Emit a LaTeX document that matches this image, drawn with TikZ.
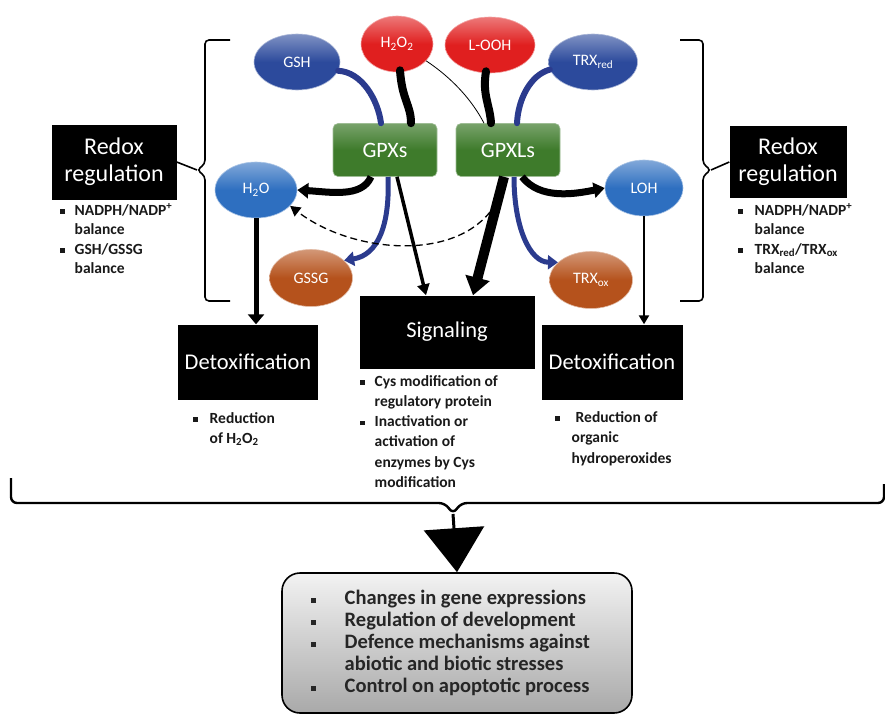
\documentclass[tikz,border=0pt]{standalone}
\usepackage{fontspec}
\setmainfont{Carlito}
\usetikzlibrary{arrows.meta,shapes.geometric,calc}

\definecolor{navyblue}{HTML}{2C4A9C}
\definecolor{skyblue}{HTML}{2E6FC0}
\definecolor{bandblue}{HTML}{2B3B8E}
\definecolor{oxred}{HTML}{E01F1F}
\definecolor{enzgreen}{HTML}{3E7B2B}
\definecolor{rust}{HTML}{B5521C}
\definecolor{outgray}{HTML}{A9A9A9}

\newcommand{\sqb}{\rule[1.5pt]{4.5pt}{4.5pt}}

\tikzset{
  oval/.style={ellipse, minimum width=86, minimum height=56, inner sep=0,
    top color=#1!60!white, bottom color=#1, middle color=#1,
    draw=#1!40!white, line width=0.6, text=white,
    font=\fontsize{16}{16}\selectfont},
  enzyme/.style={rectangle, rounded corners=5, minimum width=104, minimum height=53,
    top color=enzgreen!70!white, bottom color=enzgreen, middle color=enzgreen,
    draw=enzgreen!50!white, line width=0.6, text=white,
    font=\fontsize{22}{22}\selectfont},
  rolebox/.style={rectangle, fill=black, text=white, inner sep=0,
    font=\fontsize{22.5}{26}\selectfont, align=center},
  notes/.style={anchor=base west, inner sep=0, text=black!90,
    font=\bfseries\fontsize{15.5}{19.5}\selectfont},
  thickarrow/.style={line width=#1, -{Triangle[width=15pt,length=11pt]}},
  feed/.style={line width=#1, line cap=round},
  bluearrow/.style={line width=5, draw=bandblue, -{Triangle[width=14pt,length=10pt]}},
  bluefeed/.style={line width=6, draw=bandblue, line cap=round},
  brace/.style={line width=1.6, rounded corners=4},
}

\begin{document}
\begin{tikzpicture}[x=1pt,y=-1pt]
\useasboundingbox (0,0) rectangle (885,715);

% substrates and products
\node[oval=navyblue] (gsh) at (297,62) {GSH};
\node[oval=oxred, minimum width=72, minimum height=56] (h2o2) at (397,44) {H\textsubscript{2}O\textsubscript{2}};
\node[oval=oxred, minimum width=90, minimum height=56] (looh) at (490,45) {L-OOH};
\node[oval=navyblue, minimum width=89] (trxred) at (593,62) {TRX\textsubscript{red}};
\node[oval=skyblue, minimum width=82] (h2o) at (256,190) {H\textsubscript{2}O};
\node[oval=skyblue, minimum width=78] (loh) at (644,188) {LOH};
\node[oval=rust, minimum width=83, minimum height=57] (gssg) at (311,278) {GSSG};
\node[oval=rust, minimum width=83, minimum height=57] (trxox) at (591,280) {TRX\textsubscript{ox}};

% enzymes
\node[enzyme] (gpx) at (385,150) {GPXs};
\node[enzyme] (gpxl) at (508,150) {GPXLs};

% role boxes
\node[rolebox, minimum width=125, minimum height=75, font=\fontsize{24}{27}\selectfont] (redoxL) at (114,162) {Redox\\regulation};
\node[rolebox, minimum width=117, minimum height=72, font=\fontsize{24}{27}\selectfont] (redoxR) at (788,162) {Redox\\regulation};
\node[rolebox, minimum width=175, minimum height=73] (signal) at (447,332) {Signaling};
\node[rolebox, minimum width=140, minimum height=75] (detoxL) at (248,362) {Detoxification};
\node[rolebox, minimum width=141, minimum height=75] (detoxR) at (612,362) {Detoxification};

% notes under the boxes
\node[notes] (notesL) at (60,215) {\begin{tabular}[t]{@{}l@{\hspace{10pt}}l@{}}
  \sqb & NADPH/NADP\textsuperscript{+}\\ & balance\\ \sqb & GSH/GSSG\\ & balance\end{tabular}};
\node[notes] (notesR) at (738,215) {\begin{tabular}[t]{@{}l@{\hspace{12pt}}l@{}}
  \sqb & NADPH/NADP\textsuperscript{+}\\ & balance\\ \sqb & TRX\textsubscript{red}/TRX\textsubscript{ox}\\ & balance\end{tabular}};
\node[notes, font=\bfseries\fontsize{15.5}{20.3}\selectfont] (notesS) at (360,386) {\begin{tabular}[t]{@{}l@{\hspace{10pt}}l@{}}
  \sqb & Cys modification of\\ & regulatory protein\\ \sqb & Inactivation or\\ & activation of\\
  & enzymes by Cys\\ & modification\end{tabular}};
\node[notes, font=\bfseries\fontsize{15.5}{20}\selectfont] (notesDL) at (193,423) {\begin{tabular}[t]{@{}l@{\hspace{12pt}}l@{}}
  \sqb & Reduction\\ & of H\textsubscript{2}O\textsubscript{2}\end{tabular}};
\node[notes, font=\bfseries\fontsize{15.5}{20.5}\selectfont] (notesDR) at (555,422) {\begin{tabular}[t]{@{}l@{\hspace{12pt}}l@{}}
  \sqb & \hspace{4pt}Reduction of\\ & organic\\ & hydroperoxides\end{tabular}};

% outcome box
\node[rectangle, rounded corners=18, minimum width=350, minimum height=140,
  top color=white!95!black, bottom color=outgray, draw=black, line width=1.6,
  inner sep=0] (outcome) at (457,643) {};
\node[notes, font=\bfseries\fontsize{20.5}{22}\selectfont, text=black!85] (outtext) at (311,604)
  {\begin{tabular}[t]{@{}l@{\hspace{29pt}}l@{}}
  \sqb & Changes in gene expressions\\ \sqb & Regulation of development\\
  \sqb & Defence mechanisms against\\ & abiotic and biotic stresses\\
  \sqb & Control on apoptotic process\end{tabular}};

% substrate feeds into the enzymes
\draw[bluefeed] (gsh.-12) .. controls (362,72) and (378,100) .. ($(gpx.north)+(-4,0)$);
\draw[feed=8] ($(h2o2.south)+(3,-2)$) .. controls (402,100) and (411,105) .. ($(gpx.north)+(26,0)$);
\draw[line width=0.8] (h2o2.-30) .. controls (452,78) and (472,100) .. ($(gpxl.north)+(-24,0)$);
\draw[feed=8] ($(looh.south)+(-4,-2)$) .. controls (482,95) and (490,105) .. ($(gpxl.north)+(-17,0)$);
\draw[bluefeed] (trxred.-170) .. controls (530,75) and (518,100) .. ($(gpxl.north)+(9,0)$);

% products leaving the enzymes
\draw[thickarrow=7] ($(gpx.south)+(-14,0)$) .. controls (362,198) and (330,192) .. (h2o.east);
\draw[bluearrow] ($(gpx.south)+(3,0)$) .. controls (390,225) and (378,255) .. (gssg.28);
\draw[line width=3.5, -{Triangle[width=12pt,length=11pt]}] ($(gpx.south)+(12,0)$) -- ($(signal.north)+(-21,0)$);
\draw[line width=10, -{Triangle[width=24pt,length=18pt]}] ($(gpxl.south)+(-4,0)$) -- ($(signal.north)+(26,0)$);
\draw[bluearrow] ($(gpxl.south)+(6,0)$) .. controls (514,228) and (530,262) .. (trxox.152);
\draw[thickarrow=7] ($(gpxl.south)+(14,0)$) .. controls (540,200) and (575,194) .. (loh.west);
\coordinate (dashstart) at (490,212);
\draw[line width=1.3, dashed, dash pattern=on 7pt off 4pt, -{Triangle[width=11pt,length=10pt]}]
  (dashstart) .. controls (450,262) and (350,252) .. (h2o.-25);

% products to their roles
\draw[line width=5, -{Triangle[width=16pt,length=10pt]}] (h2o.south) -- (h2o.south |- detoxL.north);
\draw[line width=2.5, -{Triangle[width=10pt,length=9pt]}] (loh.south) -- (loh.south |- detoxR.north);

% braces
\coordinate (ltip) at (197,170);
\draw[brace] (230,40) -- (205,40) -- (205,164) -- (ltip) -- (205,176) -- (205,301) -- (230,301);
\draw[line width=1.6] (redoxL.east) -- (ltip);
\coordinate (rtip) at (711,170);
\draw[brace] (680,40) -- (703,40) -- (703,164) -- (rtip) -- (703,176) -- (703,301) -- (680,301);
\draw[line width=1.6] (rtip) -- (redoxR.west);

\coordinate (btip) at (453,514);
\draw[brace, line width=2.4, rounded corners=6] (11,478) -- (11,503) -- (445,503) -- (btip) -- (461,503) -- (884,503) -- (884,484);
\draw[line width=3, -{Triangle[width=60pt,length=44pt]}] (btip) -- (outcome.north);
\end{tikzpicture}
\end{document}
